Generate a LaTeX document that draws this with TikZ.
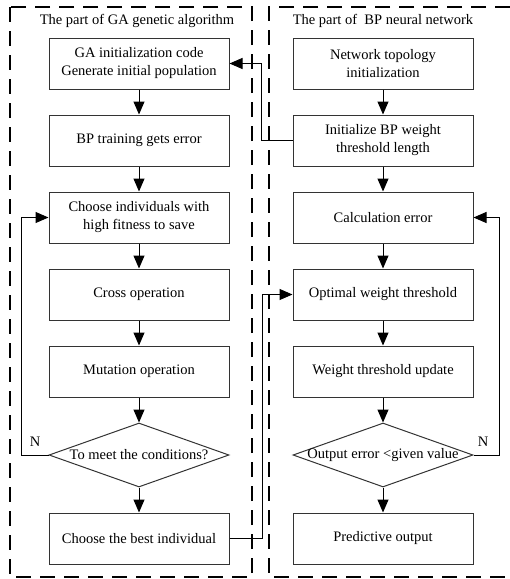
\documentclass[tikz,border=0pt]{standalone}
\usepackage{fontspec}
\setmainfont{Liberation Serif}
\usetikzlibrary{shapes.geometric,arrows.meta}

\begin{document}
\begin{tikzpicture}[x=1pt,y=-1pt,
	txt/.style={font=\fontsize{14.5}{18}\selectfont},
	box/.style={txt,draw=black!80,line width=1pt,minimum width=180pt,minimum height=51pt,align=center,inner sep=0pt},
	cond/.style={txt,draw=black!80,line width=1pt,shape=diamond,minimum width=180pt,minimum height=64pt,inner sep=0pt},
	arr/.style={line width=1pt,-{Triangle[length=13pt,width=11pt]}},
	frame/.style={line width=2pt,dash pattern=on 15pt off 9pt}]
			\useasboundingbox (0,0) rectangle (510,579);
			\draw[frame] (10,7) rectangle (252,577);
			\draw[frame] (510,7) -- (269,7) -- (269,577) -- (510,577);
			\node[txt] (ga) at (137,21) {The part of GA genetic algorithm};
			\node[txt] (bp) at (383,21) {The part of\ \ BP neural network};
			\node[box] (g1) at (139,63.5) {GA initialization code\\Generate initial population};
			\node[box] (g2) at (139,140.5) {BP training gets error};
			\node[box] (g3) at (139,217.5) {Choose individuals with\\high fitness to save};
			\node[box] (g4) at (139,294.5) {Cross operation};
			\node[box] (g5) at (139,371.5) {Mutation operation};
			\node[cond] (g6) at (139,455) {\makebox[0pt]{To meet the conditions?}};
			\node[box] (g7) at (139,538.5) {Choose the best individual};
			\node[box] (b1) at (383,63.5) {Network topology\\initialization};
			\node[box] (b2) at (383,140.5) {Initialize BP weight\\threshold length};
			\node[box] (b3) at (383,217.5) {Calculation error};
			\node[box] (b4) at (383,294.5) {Optimal weight threshold};
			\node[box] (b5) at (383,371.5) {Weight threshold update};
			\node[cond] (b6) at (383,455) {\makebox[0pt]{Output error <given value}};
			\node[box] (b7) at (383,538.5) {Predictive output};
			\foreach \a/\b in {g1/g2,g2/g3,g3/g4,g4/g5,g5/g6,g6/g7,b1/b2,b2/b3,b3/b4,b4/b5,b5/b6,b6/b7}
				\draw[arr] (\a) -- (\b);
			\draw[arr] (g6.west) -- ++(-27,0) |- (g3.west);
			\node[txt] (n1) at (35,442) {N};
			\draw[arr] (b6.east) -- ++(26,0) |- (b3.east);
			\node[txt] (n2) at (483,442) {N};
			\draw[arr] (b2.west) -- ++(-31,0) |- (g1.east);
			\draw[arr] (g7.east) -- ++(33,0) |- (b4.west);
		\end{tikzpicture}
\end{document}
